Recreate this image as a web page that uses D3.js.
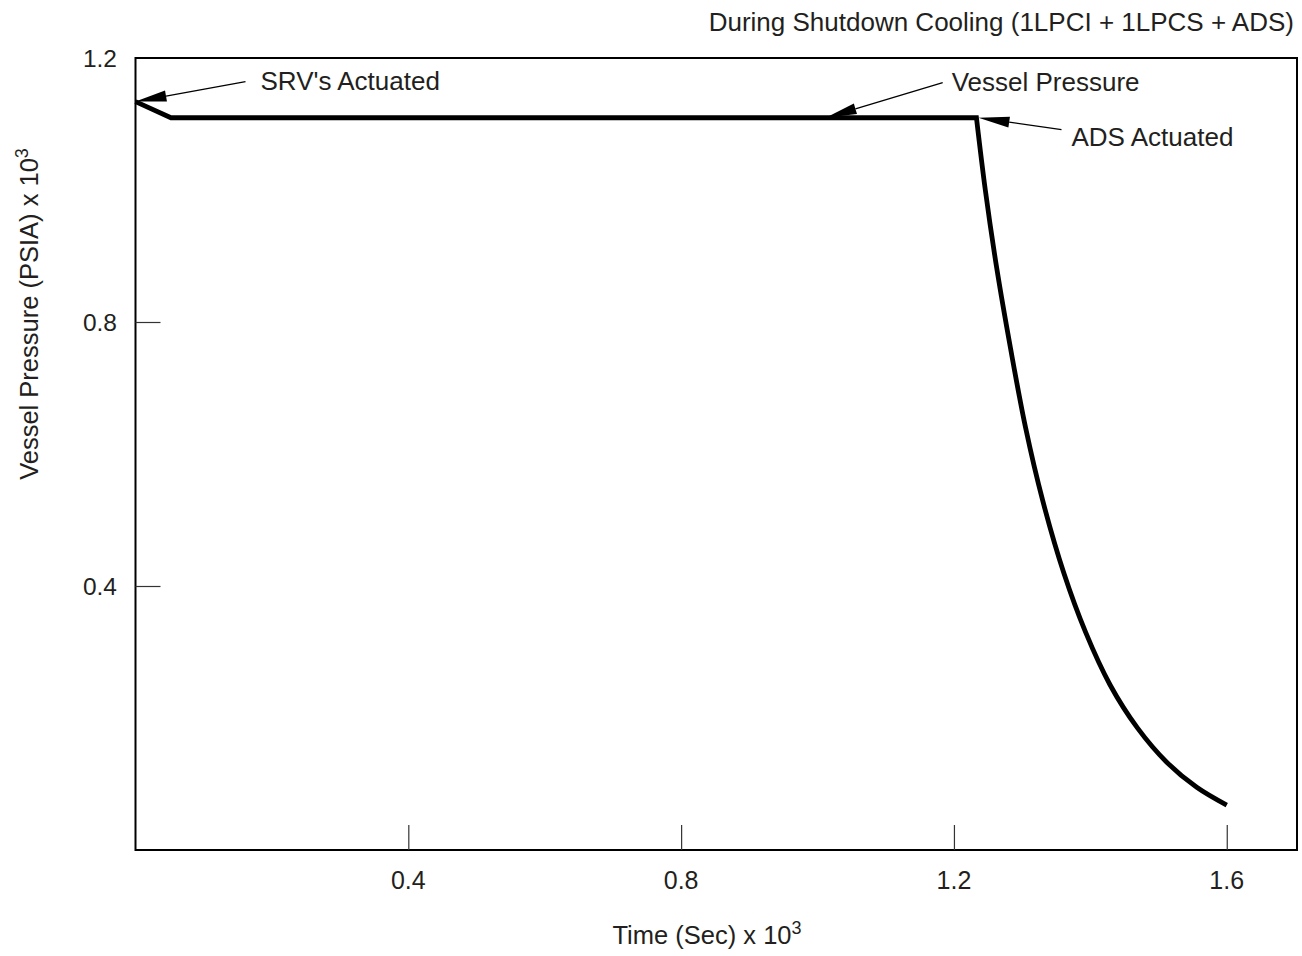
<!DOCTYPE html>
<html>
<head>
<meta charset="utf-8">
<title>Vessel Pressure</title>
<style>
  body { margin: 0; background: #fff; }
  text { font-family: "Liberation Sans", Arial, Helvetica, sans-serif; fill: #231f20; }
</style>
</head>
<body>
<svg id="chart" width="1302" height="956"></svg>
<script src="https://d3js.org/d3.v7.min.js"></script>
<script>
  // time (sec x 10^3) and vessel pressure (psia x 10^3)
  const timeVals = [0, 0.052, 1.233, 1.246, 1.263, 1.283, 1.305, 1.330, 1.361, 1.393, 1.429, 1.469, 1.512, 1.556, 1.600]
  const pressureVals = [1.134, 1.1095, 1.1095, 1.0, 0.88, 0.76, 0.64, 0.53, 0.42, 0.33, 0.25, 0.185, 0.133, 0.095, 0.068]
  const xTicks = [0.4, 0.8, 1.2, 1.6]
  const yTicks = [0.4, 0.8]
  const yLabels = [0.4, 0.8, 1.2]

  // annotations: label, arrow tip (data coords), arrow tail and text position (pixels off the tip)
  const notes = [
    { label: "SRV's Actuated", t: 0, p: 1.134, tail: [110, -20], text: [125, -12] },
    { label: 'Vessel Pressure', t: 1.012, p: 1.1095, tail: [117, -35], text: [126, -27] },
    { label: 'ADS Actuated', t: 1.236, p: 1.1095, tail: [83, 12], text: [93, 28] }
  ]

  const svg = d3.select('#chart')
  const margin = { left: 135.5, right: 1297, top: 58, bottom: 850 }

  const x = d3.scaleLinear().domain([0, 1.703]).range([margin.left, margin.right])
  const y = d3.scaleLinear().domain([0, 1.2]).range([margin.bottom, margin.top])

  const data = timeVals.map((t, i) => ({ t: t, p: pressureVals[i] }))

  // frame
  svg.append('rect')
    .attr('x', margin.left).attr('y', margin.top)
    .attr('width', margin.right - margin.left)
    .attr('height', margin.bottom - margin.top)
    .attr('fill', 'none').attr('stroke', '#000').attr('stroke-width', 2)

  // inner ticks
  const xAxis = d3.axisTop(x).tickValues(xTicks).tickSize(25).tickFormat('')
  svg.append('g')
    .attr('transform', `translate(0,${margin.bottom})`)
    .call(xAxis)
    .call(g => g.select('.domain').remove())
    .call(g => g.selectAll('line').attr('stroke', '#333').attr('stroke-width', 1.2))

  const yAxis = d3.axisRight(y).tickValues(yTicks).tickSize(25).tickFormat('')
  svg.append('g')
    .attr('transform', `translate(${margin.left},0)`)
    .call(yAxis)
    .call(g => g.select('.domain').remove())
    .call(g => g.selectAll('line').attr('stroke', '#333').attr('stroke-width', 1.2))

  // tick labels
  svg.append('g').selectAll('text')
    .data(xTicks)
    .join('text')
    .attr('x', d => x(d))
    .attr('y', 889)
    .attr('text-anchor', 'middle')
    .style('font-size', '25px')
    .text(d => d.toFixed(1))

  svg.append('g').selectAll('text')
    .data(yLabels)
    .join('text')
    .attr('x', 117)
    .attr('y', d => y(d) + 9)
    .attr('text-anchor', 'end')
    .style('font-size', '24.5px')
    .text(d => d.toFixed(1))

  // axis titles
  const xt = svg.append('text')
    .attr('x', 707).attr('y', 944)
    .attr('text-anchor', 'middle')
    .style('font-size', '25.5px')
  xt.append('tspan').text('Time (Sec) x 10')
  xt.append('tspan').attr('dy', -10).style('font-size', '18px').text('3')

  const yt = svg.append('text')
    .attr('transform', 'translate(38,314) rotate(-90)')
    .attr('text-anchor', 'middle')
    .style('font-size', '25.5px')
  yt.append('tspan').text('Vessel Pressure (PSIA) x 10')
  yt.append('tspan').attr('dy', -10).style('font-size', '18px').text('3')

  // title
  svg.append('text')
    .attr('x', 1294).attr('y', 31)
    .attr('text-anchor', 'end')
    .style('font-size', '26px')
    .text('During Shutdown Cooling (1LPCI + 1LPCS + ADS)')

  // pressure line: straight up to ADS actuation, smooth decay after
  const straight = d3.line().x(d => x(d.t)).y(d => y(d.p))
  const smooth = d3.line().x(d => x(d.t)).y(d => y(d.p)).curve(d3.curveCatmullRom.alpha(0.5))

  svg.append('path')
    .attr('d', straight(data.slice(0, 3)) + smooth(data.slice(2)).replace(/^M/, 'L'))
    .attr('fill', 'none')
    .attr('stroke', '#000')
    .attr('stroke-width', 4.8)
    .attr('stroke-linejoin', 'miter')

  // annotation arrows
  notes.forEach(n => {
    const tx = x(n.t), ty = y(n.p)
    const ex = tx + n.tail[0], ey = ty + n.tail[1]
    const ang = Math.atan2(ey - ty, ex - tx)
    const len = 31, half = 5.5
    const bx = tx + len * Math.cos(ang), by = ty + len * Math.sin(ang)
    const px = -Math.sin(ang) * half, py = Math.cos(ang) * half

    svg.append('line')
      .attr('x1', bx).attr('y1', by).attr('x2', ex).attr('y2', ey)
      .attr('stroke', '#000').attr('stroke-width', 1.3)

    svg.append('path')
      .attr('d', `M${tx},${ty}L${bx + px},${by + py}L${bx - px},${by - py}Z`)
      .attr('fill', '#000')

    svg.append('text')
      .attr('x', tx + n.text[0]).attr('y', ty + n.text[1])
      .style('font-size', '26px')
      .text(n.label)
  })
</script>
</body>
</html>
